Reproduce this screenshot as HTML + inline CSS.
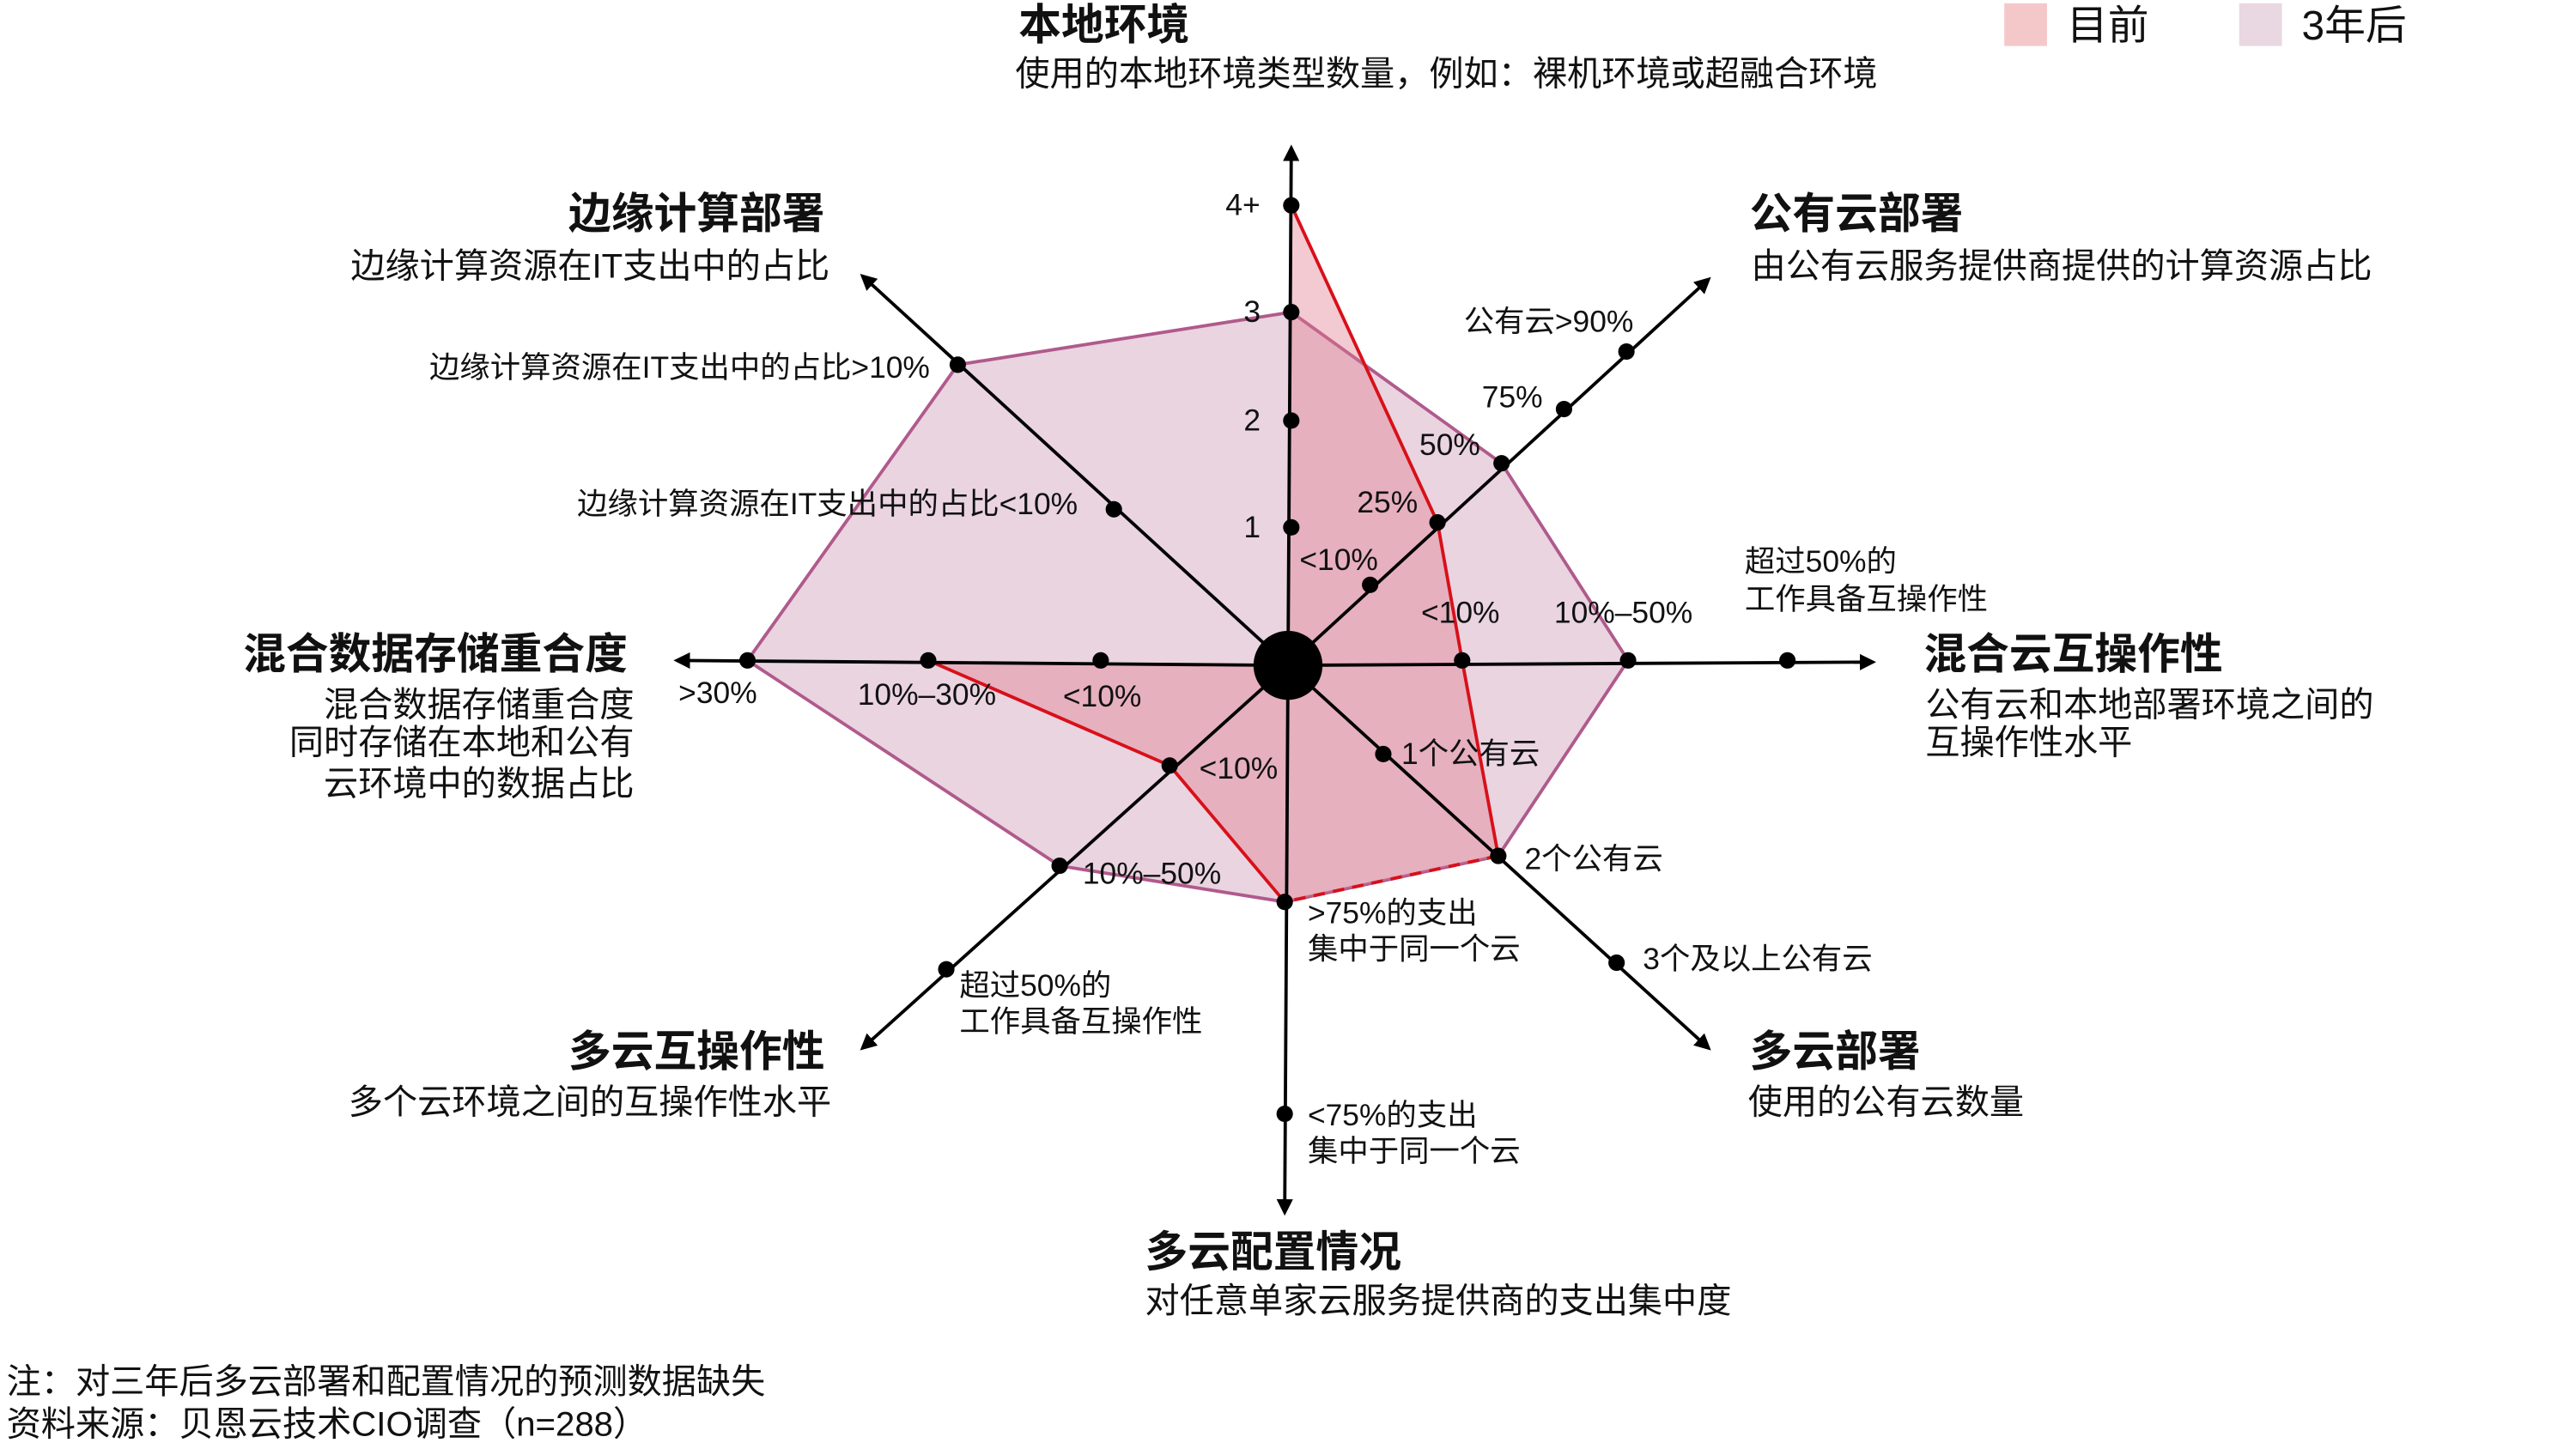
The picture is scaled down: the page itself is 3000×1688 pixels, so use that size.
<!DOCTYPE html>
<html><head><meta charset="utf-8"><style>
html,body{margin:0;padding:0;background:#fff;}
svg{display:block;}
text{font-family:"Liberation Sans","Noto Sans CJK SC",sans-serif;fill:#111;}
.t{font-size:26px;font-weight:bold;}
.s{font-size:21px;}
.l{font-size:18.5px;}
</style></head><body>
<svg width="3000" height="1688" viewBox="0 0 1568 882" preserveAspectRatio="none">
<defs><marker id="a" markerWidth="10" markerHeight="10" refX="8" refY="5" orient="auto" markerUnits="userSpaceOnUse"><path d="M0,0 L10,5 L0,10 Z" fill="#000"/></marker></defs>
<polygon points="786,190 914,282 991,402 912,521 782,549 645,527 455,402 583,222" fill="#e9d4e0" stroke="#b05a8c" stroke-width="2"/>
<polygon points="784,405 786,125 875,318 890,402 912,521 782,549 712,466 565,402" fill="#e07a8c" fill-opacity="0.4" stroke="none"/>
<polyline points="786,125 875,318 890,402 912,521" fill="none" stroke="#d8101a" stroke-width="2"/>
<line x1="912" y1="521" x2="782" y2="549" stroke="#d8101a" stroke-width="2" stroke-dasharray="7,5"/>
<polyline points="782,549 712,466 565,402" fill="none" stroke="#d8101a" stroke-width="2"/>
<g stroke="#000" stroke-width="2" marker-end="url(#a)">
<line x1="784" y1="405" x2="786" y2="90"/>
<line x1="784" y1="405" x2="782" y2="738"/>
<line x1="784" y1="405" x2="1140" y2="403"/>
<line x1="784" y1="405" x2="412" y2="402"/>
<line x1="784" y1="405" x2="1040" y2="170"/>
<line x1="784" y1="405" x2="525" y2="168"/>
<line x1="784" y1="405" x2="1040" y2="638"/>
<line x1="784" y1="405" x2="525" y2="638"/>
</g>
<circle cx="784" cy="405" r="21" fill="#000"/>
<g fill="#000">
<circle cx="786" cy="125" r="5"/><circle cx="786" cy="190" r="5"/><circle cx="786" cy="256" r="5"/><circle cx="786" cy="321" r="5"/>
<circle cx="834" cy="356" r="5"/><circle cx="875" cy="318" r="5"/><circle cx="914" cy="282" r="5"/><circle cx="952" cy="249" r="5"/><circle cx="990" cy="214" r="5"/>
<circle cx="890" cy="402" r="5"/><circle cx="991" cy="402" r="5"/><circle cx="1088" cy="402" r="5"/>
<circle cx="842" cy="459" r="5"/><circle cx="912" cy="521" r="5"/><circle cx="984" cy="586" r="5"/>
<circle cx="782" cy="549" r="5"/><circle cx="782" cy="678" r="5"/>
<circle cx="712" cy="466" r="5"/><circle cx="645" cy="527" r="5"/><circle cx="576" cy="590" r="5"/>
<circle cx="670" cy="402" r="5"/><circle cx="565" cy="402" r="5"/><circle cx="455" cy="402" r="5"/>
<circle cx="678" cy="310" r="5"/><circle cx="583" cy="222" r="5"/>
</g>
<rect x="1220" y="2" width="26" height="26" fill="#f4c8c9"/>
<text x="1258" y="24" style="font-size:25px">目前</text>
<rect x="1363" y="2" width="26" height="26" fill="#e9d7e2"/>
<text x="1401" y="24" style="font-size:25px">3年后</text>
<text class="t" x="620" y="24">本地环境</text>
<text class="s" x="618" y="52">使用的本地环境类型数量，例如：裸机环境或超融合环境</text>
<text class="t" x="1065" y="139">公有云部署</text>
<text class="s" x="1066" y="169">由公有云服务提供商提供的计算资源占比</text>
<text class="t" x="502" y="139" text-anchor="end">边缘计算部署</text>
<text class="s" x="505" y="169" text-anchor="end">边缘计算资源在IT支出中的占比</text>
<text class="t" x="1171" y="407">混合云互操作性</text>
<text class="s" x="1172" y="436">公有云和本地部署环境之间的</text>
<text class="s" x="1172" y="459">互操作性水平</text>
<text class="t" x="382" y="407" text-anchor="end">混合数据存储重合度</text>
<text class="s" x="386" y="436" text-anchor="end">混合数据存储重合度</text>
<text class="s" x="386" y="459" text-anchor="end">同时存储在本地和公有</text>
<text class="s" x="386" y="484" text-anchor="end">云环境中的数据占比</text>
<text class="t" x="502" y="649" text-anchor="end">多云互操作性</text>
<text class="s" x="506" y="678" text-anchor="end">多个云环境之间的互操作性水平</text>
<text class="t" x="1065" y="649">多云部署</text>
<text class="s" x="1064" y="678">使用的公有云数量</text>
<text class="t" x="697" y="771">多云配置情况</text>
<text class="s" x="697" y="799">对任意单家云服务提供商的支出集中度</text>
<text class="s" x="4" y="848">注：对三年后多云部署和配置情况的预测数据缺失</text>
<text class="s" x="4" y="874">资料来源：贝恩云技术CIO调查（n=288）</text>
<g>
<text class="l" x="746" y="131">4+</text>
<text class="l" x="757" y="196">3</text>
<text class="l" x="757" y="262">2</text>
<text class="l" x="757" y="327">1</text>
<text class="l" x="791" y="347">&lt;10%</text>
<text class="l" x="826" y="312">25%</text>
<text class="l" x="864" y="277">50%</text>
<text class="l" x="902" y="248">75%</text>
<text class="l" x="891" y="202">公有云&gt;90%</text>
<text class="l" x="865" y="379">&lt;10%</text>
<text class="l" x="946" y="379">10%–50%</text>
<text class="l" x="1062" y="348">超过50%的</text>
<text class="l" x="1062" y="371">工作具备互操作性</text>
<text class="l" x="853" y="465">1个公有云</text>
<text class="l" x="928" y="529">2个公有云</text>
<text class="l" x="1000" y="590">3个及以上公有云</text>
<text class="l" x="796" y="562">&gt;75%的支出</text>
<text class="l" x="796" y="584">集中于同一个云</text>
<text class="l" x="796" y="685">&lt;75%的支出</text>
<text class="l" x="796" y="707">集中于同一个云</text>
<text class="l" x="730" y="474">&lt;10%</text>
<text class="l" x="659" y="538">10%–50%</text>
<text class="l" x="584" y="606">超过50%的</text>
<text class="l" x="584" y="628">工作具备互操作性</text>
<text class="l" x="647" y="430">&lt;10%</text>
<text class="l" x="522" y="429">10%–30%</text>
<text class="l" x="413" y="428">&gt;30%</text>
<text class="l" x="656" y="313" text-anchor="end">边缘计算资源在IT支出中的占比&lt;10%</text>
<text class="l" x="566" y="230" text-anchor="end">边缘计算资源在IT支出中的占比&gt;10%</text>
</g>
</svg>
</body></html>
